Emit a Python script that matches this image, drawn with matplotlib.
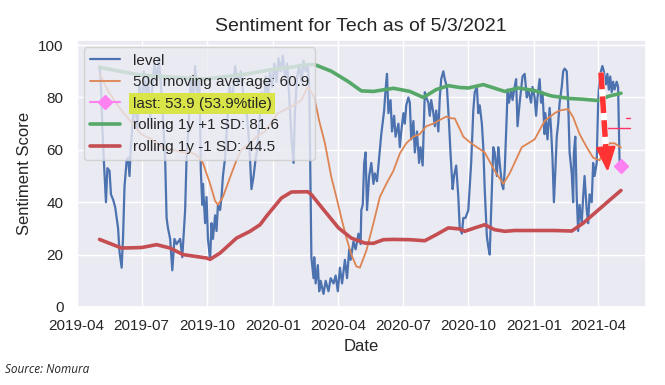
import matplotlib
matplotlib.use('Agg')
import matplotlib.pyplot as plt
import matplotlib.dates as mdates
import seaborn as sns
import pandas as pd

# day offsets are counted from this date
start = pd.Timestamp('2019-04-01')

level_day = [32, 34, 36, 38, 41, 43, 46, 48, 51, 54, 58, 60, 63, 65, 67, 70, 72, 74, 76, 79,
             82, 85, 88, 91, 94, 97, 100, 103, 106, 109, 112, 115, 118, 121, 124, 126, 128, 131, 134, 137,
             140, 145, 148, 152, 154, 157, 160, 163, 166, 169, 172, 174, 176, 177, 180, 182, 184, 187, 189, 191,
             194, 196, 198, 201, 203, 205, 208, 211, 214, 218, 222, 226, 230, 234, 238, 242, 245, 248, 251, 253,
             256, 259, 262, 265, 268, 271, 274, 277, 280, 283, 286, 289, 292, 295, 298, 301, 304, 306, 309, 312,
             315, 318, 321, 324, 326, 328, 329, 332, 333, 335, 338, 340, 342, 346, 349, 353, 356, 360, 363, 366,
             369, 372, 376, 379, 382, 384, 388, 391, 395, 398, 399, 401, 403, 405, 407, 410, 413, 416, 418, 421,
             424, 427, 431, 433, 435, 437, 440, 442, 445, 447, 451, 453, 455, 458, 460, 462, 465, 467, 469, 472,
             474, 477, 480, 482, 485, 488, 490, 493, 495, 497, 500, 502, 504, 507, 509, 511, 514, 516, 519, 522,
             524, 527, 529, 532, 535, 537, 540, 542, 545, 549, 553, 556, 558, 561, 563, 565, 568, 570, 572, 575,
             577, 579, 582, 584, 586, 589, 591, 593, 596, 598, 600, 603, 604, 606, 609, 611, 614, 616, 618, 621,
             623, 625, 628, 631, 633, 637, 639, 642, 644, 646, 649, 651, 653, 656, 657, 660, 663, 665, 667, 669,
             671, 673, 675, 677, 680, 682, 684, 687, 689, 691, 694, 696, 697, 699, 701, 703, 705, 708, 710, 712,
             715, 717, 719, 722, 724, 726, 729, 731, 733, 737, 739, 742, 744, 746, 748, 750, 752, 754, 757, 759,
             761, 763]
level_val = [92, 84, 68, 56, 40, 53, 52, 43, 41, 38, 30, 21, 15, 27, 46, 56, 57, 50, 62, 72,
             80, 68, 85, 75, 90, 80, 88, 72, 84, 93, 86, 95, 85, 72, 56, 34, 30, 26, 14, 26,
             24, 26, 19, 37, 57, 70, 88, 78, 92, 80, 87, 52, 39, 47, 32, 42, 26, 18, 32, 26,
             35, 29, 39, 37, 42, 50, 57, 70, 85, 78, 92, 85, 90, 80, 75, 62, 45, 50, 57, 60,
             70, 82, 76, 88, 80, 90, 84, 93, 86, 95, 90, 96, 88, 93, 80, 65, 55, 75, 88, 92,
             86, 94, 90, 92, 85, 40, 19, 11, 19, 9, 16, 6, 10, 5, 10, 6, 11, 9, 12, 6,
             15, 9, 18, 11, 22, 18, 25, 22, 28, 24, 37, 39, 55, 59, 37, 50, 55, 47, 51, 48,
             57, 66, 75, 83, 89, 74, 79, 67, 73, 65, 70, 61, 67, 74, 70, 77, 80, 78, 64, 71,
             59, 67, 55, 61, 54, 82, 80, 78, 73, 79, 74, 69, 75, 67, 80, 87, 90, 87, 84, 70,
             59, 45, 50, 54, 42, 30, 28, 34, 34, 37, 55, 75, 82, 84, 74, 77, 70, 61, 45, 27,
             23, 20, 45, 61, 59, 50, 61, 55, 47, 45, 52, 74, 83, 78, 83, 79, 84, 87, 69, 78,
             83, 88, 89, 80, 83, 78, 84, 80, 73, 80, 87, 78, 82, 66, 74, 64, 76, 68, 57, 40,
             52, 65, 70, 78, 84, 90, 91, 90, 78, 59, 51, 40, 59, 65, 42, 29, 39, 32, 42, 50,
             37, 32, 43, 40, 55, 50, 55, 78, 88, 92, 90, 85, 89, 83, 88, 82, 86, 83, 86, 84,
             56, 53.9]

ma_day = [32, 45, 60, 75, 90, 105, 120, 135, 150, 160, 168, 177, 187, 194, 198, 205, 215, 224, 231, 243,
          252, 264, 282, 301, 315, 324, 329, 333, 340, 348, 357, 364, 371, 378, 385, 392, 397, 406, 416, 425,
          434, 444, 453, 462, 472, 481, 490, 500, 509, 518, 526, 530, 537, 542, 553, 572, 586, 598, 607, 624,
          642, 656, 670, 677, 689, 696, 705, 715, 724, 733, 740, 747, 754, 763]
ma_val = [89, 82, 76, 71, 66, 64, 61, 60, 59, 59, 58, 55, 47, 40.5, 39, 42, 49.5, 56, 60, 62.5,
          65, 67, 74, 76.5, 79, 84, 82, 80, 71, 62.5, 49.5, 42, 34, 26.5, 20, 15.5, 15, 21.5, 32, 42,
          47, 52, 58.6, 62.5, 65, 66, 69, 70, 71.4, 72.7, 72, 72, 68, 65, 62.5, 59, 52, 47, 51, 61,
          64, 71, 74, 75, 75.6, 72.4, 66, 61, 57, 56, 60, 62.5, 62.5, 60.9]

up_day = [32, 60, 90, 120, 150, 180, 210, 240, 270, 300, 320, 334, 357, 381, 399, 416, 444, 467, 486, 504,
          521, 537, 549, 570, 600, 619, 642, 665, 691, 710, 731, 745, 763]
up_val = [91.5, 90, 88.5, 88, 87.5, 87, 88, 89, 90.5, 91.5, 92.5, 92.5, 90, 86, 82.5, 82.3, 83.5, 82.3, 80, 83,
          84.5, 83.8, 83.6, 84.9, 82.3, 83.6, 82.6, 80.6, 79.6, 79.3, 78.8, 80.4, 81.6]

lo_day = [32, 63, 91, 112, 131, 149, 182, 187, 201, 224, 243, 257, 267, 287, 301, 324, 329, 348, 367, 385,
          404, 416, 430, 444, 467, 488, 504, 521, 537, 544, 558, 572, 586, 600, 614, 643, 670, 694, 710, 729,
          748, 763]
lo_val = [25.8, 22.5, 22.7, 23.8, 22.5, 20, 18.7, 18.2, 20.6, 26.3, 28.9, 31.4, 35, 41.6, 43.9, 44, 42.9, 36.5, 30.2, 26.3,
          24.4, 24.3, 25.7, 25.8, 25.7, 25.3, 27.6, 30.2, 29.8, 28.9, 30.2, 31.4, 29.5, 28.9, 29.2, 29.2, 29.2, 29, 32, 36.5,
          41, 44.5]

last_day = 763
last_val = 53.9

# hand-drawn red arrow and marks on the original
arrow_day = [735, 742, 744.5]
arrow_val = [89.5, 60, 51.5]
mark_day = [[770, 776], [745, 775]]
mark_val = [[72, 72], [68.3, 68.3]]


def to_dates(days):
    return start + pd.to_timedelta(days, unit='D')


sns.set_theme(style='darkgrid')
plt.rcParams['font.family'] = ['Liberation Sans', 'DejaVu Sans']

fig = plt.figure(figsize=(6.65, 3.85), dpi=100)
ax = fig.add_axes([0.1143, 0.2026, 0.857, 0.694])

ax.plot(to_dates(level_day), level_val, color='#4c72b0', lw=1.6, label='level')
ax.plot(to_dates(ma_day), ma_val, color='#dd8452', lw=1.3,
        label='50d moving average: %.1f' % ma_val[-1])
ax.plot([start + pd.Timedelta(days=last_day)], [last_val], color='#ff80f0', marker='D', ms=7.5,
        label='last: %.1f (53.9%%tile)' % last_val)
ax.plot(to_dates(up_day), up_val, color='#55a868', lw=2.6,
        label='rolling 1y +1 SD: %.1f' % up_val[-1])
ax.plot(to_dates(lo_day), lo_val, color='#c44e52', lw=2.6,
        label='rolling 1y -1 SD: %.1f' % lo_val[-1])

# the dashed arrow
ad = to_dates(arrow_day)
ax.plot(ad[:2], arrow_val[:2], color='white', lw=4.5, solid_capstyle='butt', zorder=5)
ax.plot(ad[:2], arrow_val[:2], color='#ff3333', lw=4, dashes=(3, 1.3), zorder=6)
ax.annotate('', xy=(ad[2], arrow_val[2]), xytext=(ad[1], arrow_val[1]),
            arrowprops=dict(arrowstyle='-|>,head_length=0.75,head_width=0.3', color='#ff3333',
                            lw=2, mutation_scale=20, shrinkA=0, shrinkB=0), zorder=6)
for md, mv in zip(mark_day, mark_val):
    ax.plot(to_dates(md), mv, color='#ff3366', lw=1)

ax.set_xlim(start - pd.Timedelta(days=1), start + pd.Timedelta(days=798))
ax.set_ylim(0, 102)
ax.set_yticks([0, 20, 40, 60, 80, 100])
ax.xaxis.set_major_locator(mdates.MonthLocator(bymonth=[1, 4, 7, 10]))
ax.xaxis.set_major_formatter(mdates.DateFormatter('%Y-%m'))
ax.tick_params(axis='both', labelsize=11, length=0, pad=9)

ax.set_title('Sentiment for Tech as of 5/3/2021', fontsize=14)
ax.set_xlabel('Date', fontsize=12, labelpad=4)
ax.set_ylabel('Sentiment Score', fontsize=12)

leg = ax.legend(loc='upper left', fontsize=11)
leg.get_texts()[2].set_bbox(dict(facecolor='#d8e448', edgecolor='none', pad=2.5))

fig.text(0.008, 0.03, 'Source: Nomura', style='italic', fontsize=8.5, family='Open Sans')

fig.savefig('out.png', dpi=100)
